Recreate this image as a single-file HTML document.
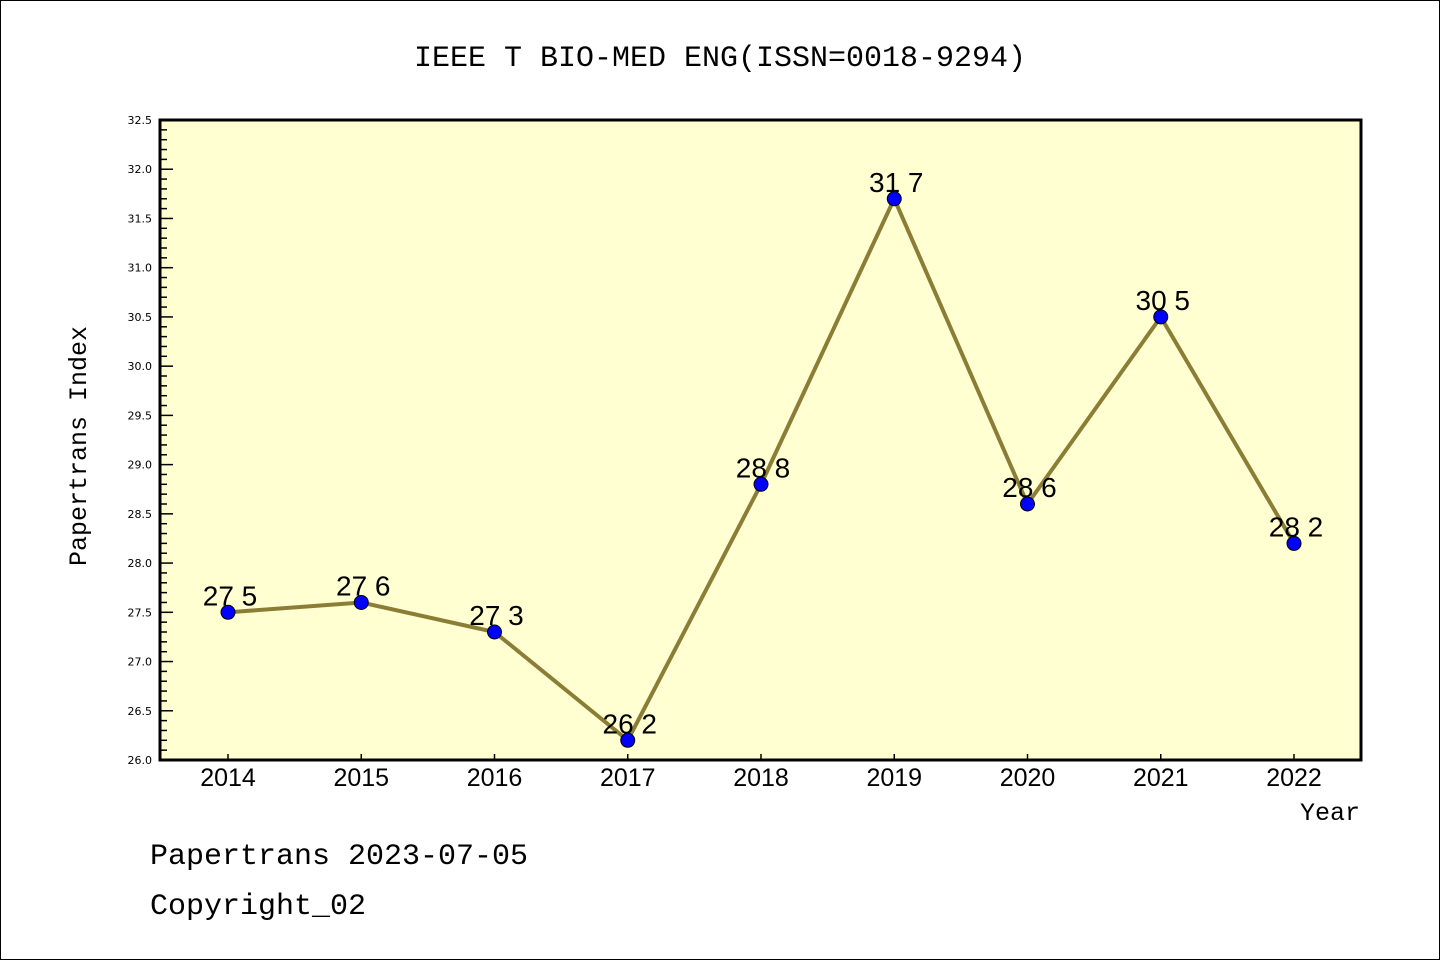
<!DOCTYPE html>
<html><head><meta charset="utf-8"><style>
body{margin:0;background:#fff}
svg{display:block}
text{font-family:"Liberation Mono","DejaVu Sans Mono",monospace}
</style></head><body>
<svg id="chart" width="1440" height="960">
<rect x="0.5" y="0.5" width="1439" height="959" fill="#fff" stroke="#000"/>
<text x="720" y="66" text-anchor="middle" font-size="30">IEEE T BIO-MED ENG(ISSN=0018-9294)</text>
<rect x="160" y="120" width="1201" height="640" fill="#ffffd2"/>
<g id="axes"></g>
<g id="series"></g>
<rect x="160" y="120" width="1201" height="640" fill="none" stroke="#000" stroke-width="3"/>
<text x="86" y="446" transform="rotate(-90 86 446)" text-anchor="middle" font-size="25">Papertrans Index</text>
<text x="1360" y="820" text-anchor="end" font-size="25">Year</text>
<text x="150" y="864" font-size="30">Papertrans 2023-07-05</text>
<text x="150" y="914" font-size="30">Copyright_02</text>
</svg>
<script>
const years=[2014,2015,2016,2017,2018,2019,2020,2021,2022];
const values=[27.5,27.6,27.3,26.2,28.8,31.7,28.6,30.5,28.2];
const yTicks=[26.0,26.5,27.0,27.5,28.0,28.5,29.0,29.5,30.0,30.5,31.0,31.5,32.0,32.5];
const NS="http://www.w3.org/2000/svg";
const yMin=26,yMax=32.5,plotTop=120,plotBot=760;
function yS(v){return plotBot-(v-yMin)/(yMax-yMin)*(plotBot-plotTop);}
function xS(i){return 228+i*133.25;}
function mk(tag,attrs,parent){const e=document.createElementNS(NS,tag);for(const k in attrs)e.setAttribute(k,attrs[k]);parent.appendChild(e);return e;}
const axes=document.getElementById('axes'),series=document.getElementById('series');
for(let v=260;v<=325;v++){
  const y=yS(v/10);const major=v%5===0;
  const t=mk('line',{x1:160,x2:major?173:167,y1:y,y2:y,stroke:'#000','stroke-width':1.5},axes);
  
  
}
yTicks.forEach(v=>{
  const t=mk('text',{x:152,y:yS(v)+4,'text-anchor':'end',style:'font-size:11px;font-family:"DejaVu Sans",sans-serif'},axes);
  t.textContent=v.toFixed(1);
  
  
});
years.forEach((yr,i)=>{
  const x=xS(i);
  const l=mk('line',{x1:x,x2:x,y1:760,y2:754,stroke:'#000','stroke-width':1.5},axes);
  
  
  const t=mk('text',{x:x,y:786,'text-anchor':'middle',style:'font-size:25px;font-family:"Liberation Sans",sans-serif'},axes);
  t.textContent=yr;
  
  
});
const pts=values.map((v,i)=>xS(i)+','+yS(v)).join(' ');
const pl=mk('polyline',{points:pts,fill:'none',stroke:'#8b7d35','stroke-width':4},series);


values.forEach((v,i)=>{
  const c=mk('circle',{cx:xS(i),cy:yS(v),r:7,fill:'#0000ff',stroke:'#000','stroke-width':1},series);
  
  
  const t=mk('text',{x:xS(i)+2,y:yS(v)-7,'text-anchor':'middle',style:'font-size:28px;font-family:"Liberation Sans",sans-serif'},series);
  t.textContent=v.toFixed(1).replace('.',' ');
  
  
});
</script>
</body></html>
